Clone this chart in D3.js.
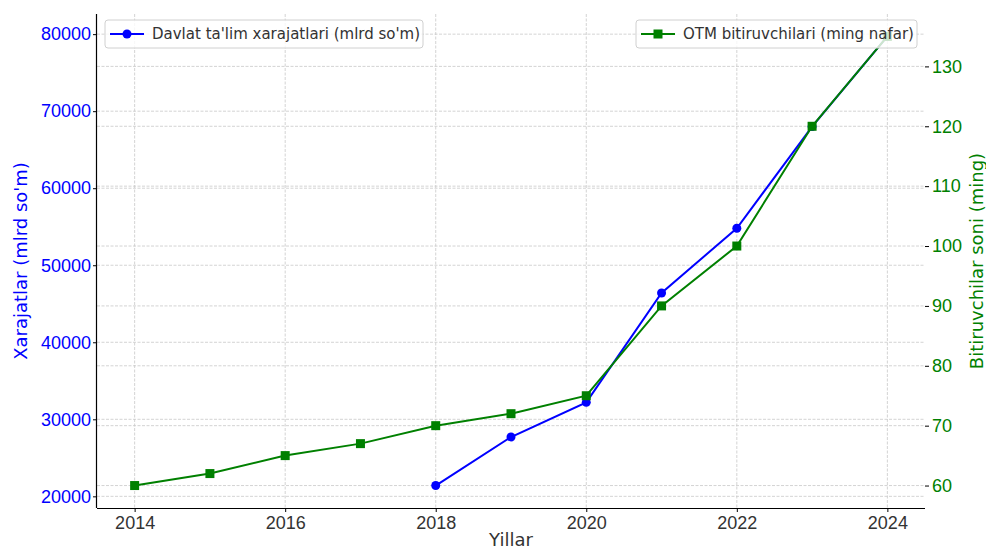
<!DOCTYPE html>
<html>
<head>
<meta charset="utf-8">
<script src="https://cdn.jsdelivr.net/npm/d3@7"></script>
<style>
  html, body { margin: 0; padding: 0; background: #fff; }
  svg { display: block; font-family: "DejaVu Sans", sans-serif; }
</style>
</head>
<body>
<svg id="chart" width="986" height="551"></svg>
<script>
const years = [2014, 2015, 2016, 2017, 2018, 2019, 2020, 2021, 2022, 2023, 2024];
const spendYears = [2018, 2019, 2020, 2021, 2022, 2023, 2024];
const spendValues = [21400, 27700, 32200, 46400, 54800, 68000, 79700];
const gradValues = [60, 62, 65, 67, 70, 72, 75, 90, 100, 120, 135];
const xTicks = [2014, 2016, 2018, 2020, 2022, 2024];
const leftTicks = [20000, 30000, 40000, 50000, 60000, 70000, 80000];
const rightTicks = [60, 70, 80, 90, 100, 110, 120, 130];
const spendLabel = "Davlat ta'lim xarajatlari (mlrd so'm)";
const gradLabel = "OTM bitiruvchilari (ming nafar)";
const xTitle = "Yillar";
const leftTitle = "Xarajatlar (mlrd so'm)";
const rightTitle = "Bitiruvchilar soni (ming)";

const BLUE = "#0000ff", GREEN = "#008000";
const L = 97, R = 925, T = 14, B = 508;
const svg = d3.select("#chart");

function padded(arr) {
  const [a, b] = d3.extent(arr);
  const p = (b - a) * 0.05;
  return [a - p, b + p];
}
const x = d3.scaleLinear().domain(padded(years)).range([L, R]);
const yL = d3.scaleLinear().domain(padded(spendValues)).range([B, T]);
const yR = d3.scaleLinear().domain(padded(gradValues)).range([B, T]);

// grid
const grid = svg.append("g").attr("stroke", "#c8c8c8").attr("stroke-width", 0.8)
  .attr("stroke-dasharray", "3,1.5");
grid.selectAll(".gx").data(xTicks).join("line")
  .attr("x1", d => x(d)).attr("x2", d => x(d)).attr("y1", T).attr("y2", B);
grid.selectAll(".gl").data(leftTicks).join("line")
  .attr("x1", L).attr("x2", R).attr("y1", d => yL(d)).attr("y2", d => yL(d));
grid.selectAll(".gr").data(rightTicks).join("line")
  .attr("x1", L).attr("x2", R).attr("y1", d => yR(d)).attr("y2", d => yR(d));

// axes
const fs = "18px";
const xAxis = svg.append("g").attr("transform", `translate(0,${B})`)
  .call(d3.axisBottom(x).tickValues(xTicks).tickFormat(d3.format("d")).tickSize(4).tickPadding(4));
xAxis.selectAll("text").attr("fill", "#333").style("font-size", fs);
xAxis.select(".domain").attr("d", `M${L},0.5H${R}`).attr("stroke", "#000").attr("stroke-width", 1.2);

const lAxis = svg.append("g").attr("transform", `translate(${L},0)`)
  .call(d3.axisLeft(yL).tickValues(leftTicks).tickFormat(d3.format("d")).tickSize(4).tickPadding(2));
lAxis.selectAll("text").attr("fill", BLUE).style("font-size", fs);
lAxis.select(".domain").attr("d", `M-0.5,${T}V${B}`).attr("stroke", "#000").attr("stroke-width", 1.2);

const rAxis = svg.append("g").attr("transform", `translate(${R},0)`)
  .call(d3.axisRight(yR).tickValues(rightTicks).tickFormat(d3.format("d")).tickSize(4).tickPadding(3));
rAxis.selectAll("text").attr("fill", GREEN).style("font-size", fs);
rAxis.select(".domain").remove();

svg.append("text").attr("x", (L + R) / 2).attr("y", 546).attr("text-anchor", "middle")
  .attr("fill", "#333").style("font-size", fs).text(xTitle);
svg.append("text").attr("transform", `translate(27,${(T + B) / 2}) rotate(-90)`)
  .attr("text-anchor", "middle").attr("fill", BLUE).style("font-size", fs).text(leftTitle);
svg.append("text").attr("transform", `translate(983,${(T + B) / 2}) rotate(-90)`)
  .attr("text-anchor", "middle").attr("fill", GREEN).style("font-size", fs).text(rightTitle);

// blue series
const spendData = spendYears.map((yr, i) => [yr, spendValues[i]]);
svg.append("path").datum(spendData)
  .attr("fill", "none").attr("stroke", BLUE).attr("stroke-width", 2)
  .attr("d", d3.line().x(d => x(d[0])).y(d => yL(d[1])));
svg.selectAll(".dot").data(spendData).join("circle")
  .attr("cx", d => x(d[0])).attr("cy", d => yL(d[1])).attr("r", 4.5).attr("fill", BLUE);

function legend(x0, y0, w, label, color, shape) {
  const g = svg.append("g");
  g.append("rect").attr("x", x0).attr("y", y0).attr("width", w).attr("height", 28)
    .attr("rx", 3).attr("fill", "#fff").attr("fill-opacity", 0.8)
    .attr("stroke", "#d0d0d0").attr("stroke-width", 1);
  g.append("line").attr("x1", x0 + 5).attr("x2", x0 + 39).attr("y1", y0 + 14).attr("y2", y0 + 14)
    .attr("stroke", color).attr("stroke-width", 2);
  if (shape === "circle") {
    g.append("circle").attr("cx", x0 + 22).attr("cy", y0 + 14).attr("r", 4.5).attr("fill", color);
  } else {
    g.append("rect").attr("x", x0 + 22 - 4.5).attr("y", y0 + 14 - 4.5).attr("width", 9).attr("height", 9).attr("fill", color);
  }
  g.append("text").attr("x", x0 + 47).attr("y", y0 + 19).attr("fill", "#333")
    .style("font-size", "15px").text(label);
}
legend(105, 20, 318, spendLabel, BLUE, "circle");

// green series
const gradData = years.map((yr, i) => [yr, gradValues[i]]);
svg.append("path").datum(gradData)
  .attr("fill", "none").attr("stroke", GREEN).attr("stroke-width", 2)
  .attr("d", d3.line().x(d => x(d[0])).y(d => yR(d[1])));
svg.selectAll(".sq").data(gradData).join("rect")
  .attr("x", d => x(d[0]) - 4.5).attr("y", d => yR(d[1]) - 4.5)
  .attr("width", 9).attr("height", 9).attr("fill", GREEN);

legend(636, 20, 281, gradLabel, GREEN, "square");
</script>
</body>
</html>
